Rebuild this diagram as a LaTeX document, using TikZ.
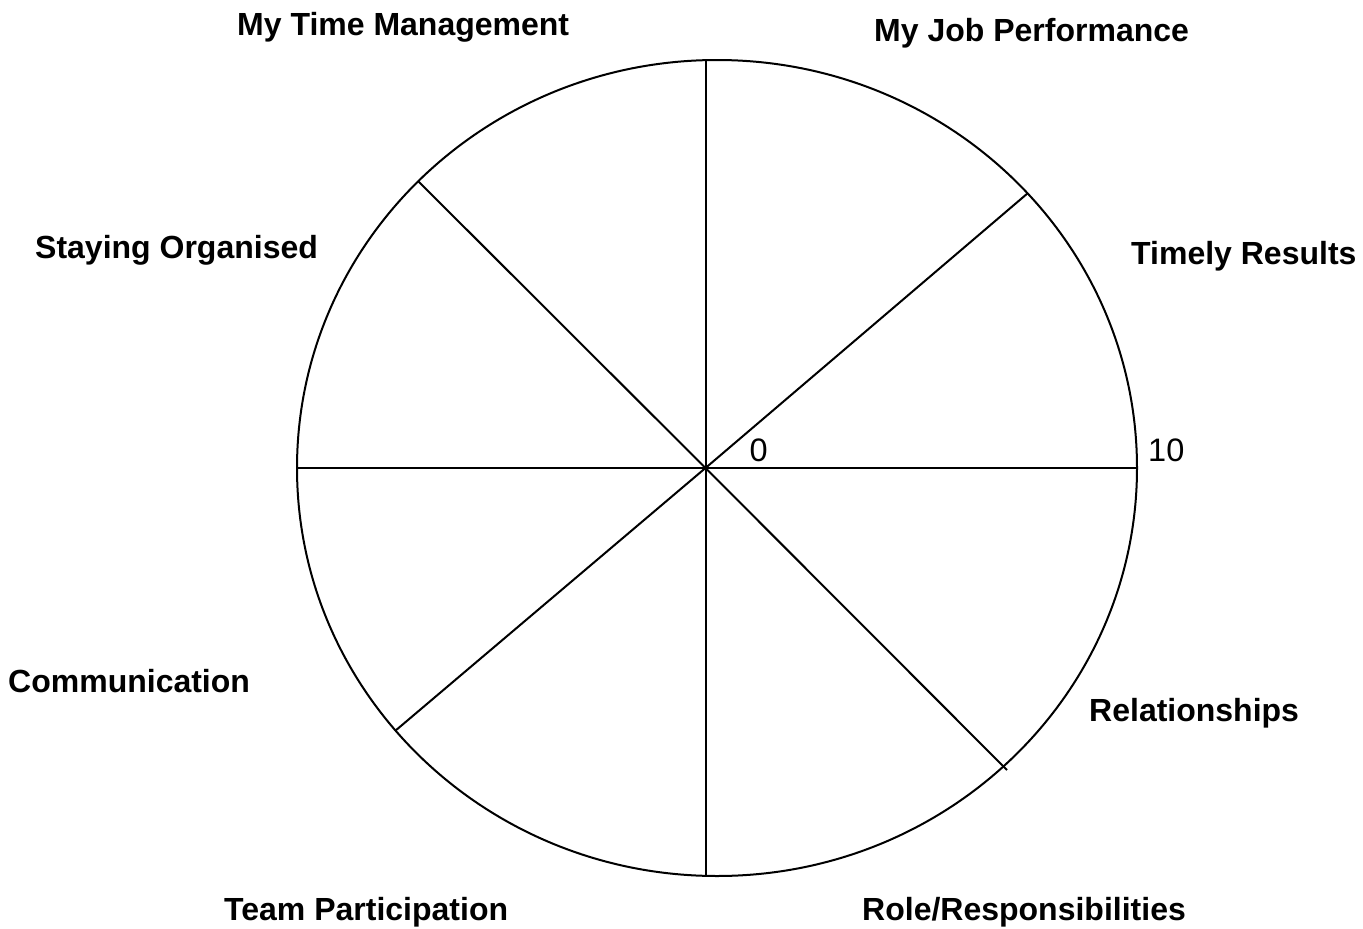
\documentclass[tikz,border=0pt]{standalone}
\usepackage{fontspec}
\setmainfont{Liberation Sans}
\begin{document}
\begin{tikzpicture}[x=1pt,y=-1pt,
  line/.style={line width=2pt,black},
  lbl/.style={anchor=base west,inner sep=0pt,font=\fontsize{32}{36}\selectfont\bfseries},
  num/.style={anchor=base west,inner sep=0pt,font=\fontsize{32.5}{38}\selectfont}]
\useasboundingbox (0,0) rectangle (1363,929);
\coordinate (c) at (705.5,468);
\coordinate (e) at (717,468);
\coordinate (t) at (705.5,60);
\coordinate (b) at (705.5,876);
\coordinate (l) at (297,468);
\coordinate (r) at (1137,468);
\coordinate (ur) at (1028,193);
\coordinate (ul) at (418,181);
\coordinate (ll) at (395,731);
\coordinate (lr) at (1007,770);
\draw[line] (e) ellipse [x radius=420, y radius=408];
\draw[line] (t) -- (b);
\draw[line] (l) -- (r);
\draw[line] (c) -- (ur);
\draw[line] (c) -- (ul);
\draw[line] (c) -- (ll);
\draw[line] (c) -- (lr);
\node[num] (zero) at (749.5,461) {0};
\node[num] (ten) at (1148,461.5) {10};
\node[lbl] (mtm) at (237,35) {My Time Management};
\node[lbl] (mjp) at (874,41) {My Job Performance};
\node[lbl] (tr) at (1131,264) {Timely Results};
\node[lbl] (so) at (35,258) {Staying Organised};
\node[lbl] (com) at (8,692) {Communication};
\node[lbl] (rel) at (1089,721) {Relationships};
\node[lbl] (tp) at (224,920) {Team Participation};
\node[lbl] (rr) at (862,920) {Role/Responsibilities};
\end{tikzpicture}
\end{document}
